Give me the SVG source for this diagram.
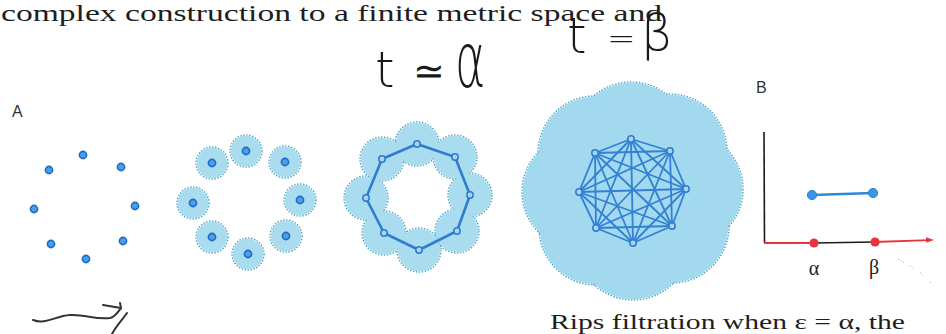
<svg xmlns="http://www.w3.org/2000/svg" width="946" height="334" viewBox="0 0 946 334">
<style>
.print{font-family:"Liberation Serif","Times New Roman",serif;fill:#1e1e1e}
.hand{font-family:"DejaVu Sans","Liberation Sans",sans-serif;font-weight:200;fill:#1a1a1a}
.lab{font-family:"Liberation Sans",Arial,sans-serif;fill:#333;font-size:16px}
.dot{fill:#4d9de8;stroke:#1d6cc7;stroke-width:1.6}
.ring{fill:#a9d4f2;stroke:#2b7bd0;stroke-width:1.5}
.diskline{fill:none;stroke:#4aa6c6;stroke-width:1.4;stroke-dasharray:1.5 1.5}
.diskfill{fill:#aadcef;stroke:none}
.e3{stroke:#2e7dd2;stroke-width:2.6;fill:none;stroke-linejoin:round}
.e4{stroke:#3381d4;stroke-width:1.8}
</style>
<rect width="946" height="334" fill="#ffffff"/>

<text class="print" x="1" y="21" font-size="23" textLength="661" lengthAdjust="spacingAndGlyphs">complex construction to a finite metric space and</text>
<text class="print" x="550" y="329" font-size="21" textLength="355" lengthAdjust="spacingAndGlyphs">Rips filtration when ε = α, the</text>

<text class="hand" x="375" y="87" font-size="50">t</text>
<text class="hand" x="413" y="84" font-size="38">≃</text>
<text class="hand" transform="translate(455,87) scale(1,1.65)" font-size="46">α</text>
<text class="hand" x="567" y="53" font-size="50">t</text>
<text class="hand" x="607" y="50" font-size="34">=</text>
<text class="hand" x="641" y="50" font-size="50">β</text>

<path d="M33,320 C45,325 55,316 70,315 C85,314 95,320 110,318 C115,317 118,312 121,308 M103,305 L121,308 L120,303 M127,313 C122,320 116,326 112,334" fill="none" stroke="#333" stroke-width="2" stroke-linecap="round"/>

<text class="lab" x="12" y="117">A</text>
<text class="lab" x="756" y="93">B</text>

<!-- panel 2 disks -->
<g id="disks2">
<g class="diskline">
<circle cx="246" cy="151" r="16"/><circle cx="285" cy="162" r="16"/><circle cx="300" cy="200" r="16"/><circle cx="286" cy="236" r="16"/><circle cx="248" cy="254" r="16"/><circle cx="212" cy="237" r="16"/><circle cx="193" cy="203" r="16"/><circle cx="212" cy="163" r="16"/>
</g>
<g class="diskfill">
<circle cx="246" cy="151" r="15.3"/><circle cx="285" cy="162" r="15.3"/><circle cx="300" cy="200" r="15.3"/><circle cx="286" cy="236" r="15.3"/><circle cx="248" cy="254" r="15.3"/><circle cx="212" cy="237" r="15.3"/><circle cx="193" cy="203" r="15.3"/><circle cx="212" cy="163" r="15.3"/>
</g>
</g>

<!-- panel 3 disks -->
<g id="disks3">
<g class="diskline">
<circle cx="417" cy="144" r="22"/><circle cx="455" cy="157" r="22"/><circle cx="470" cy="195" r="22"/><circle cx="457" cy="231" r="22"/><circle cx="419" cy="250" r="22"/><circle cx="384" cy="233" r="22"/><circle cx="366" cy="198" r="22"/><circle cx="382" cy="159" r="22"/>
</g>
<g class="diskfill">
<circle cx="417" cy="144" r="21.3"/><circle cx="455" cy="157" r="21.3"/><circle cx="470" cy="195" r="21.3"/><circle cx="457" cy="231" r="21.3"/><circle cx="419" cy="250" r="21.3"/><circle cx="384" cy="233" r="21.3"/><circle cx="366" cy="198" r="21.3"/><circle cx="382" cy="159" r="21.3"/>
</g>
</g>

<!-- panel 4 disks -->
<g id="disks4">
<g class="diskline">
<circle cx="631" cy="139" r="57"/><circle cx="670" cy="151" r="57"/><circle cx="686" cy="189" r="57"/><circle cx="672" cy="226" r="57"/><circle cx="633" cy="243" r="57"/><circle cx="596" cy="228" r="57"/><circle cx="579" cy="192" r="57"/><circle cx="595" cy="153" r="57"/>
</g>
<g class="diskfill" style="fill:#a2d9ee">
<circle cx="631" cy="139" r="56.3"/><circle cx="670" cy="151" r="56.3"/><circle cx="686" cy="189" r="56.3"/><circle cx="672" cy="226" r="56.3"/><circle cx="633" cy="243" r="56.3"/><circle cx="596" cy="228" r="56.3"/><circle cx="579" cy="192" r="56.3"/><circle cx="595" cy="153" r="56.3"/>
<circle cx="632" cy="191" r="60"/>
</g>
</g>

<g id="connectors">
<polygon class="e3" points="417,144 455,157 470,195 457,231 419,250 384,233 366,198 382,159"/>
<g class="e4">
<line x1="631" y1="139" x2="670" y2="151"/><line x1="631" y1="139" x2="686" y2="189"/><line x1="631" y1="139" x2="672" y2="226"/><line x1="631" y1="139" x2="633" y2="243"/><line x1="631" y1="139" x2="596" y2="228"/><line x1="631" y1="139" x2="579" y2="192"/><line x1="631" y1="139" x2="595" y2="153"/>
<line x1="670" y1="151" x2="686" y2="189"/><line x1="670" y1="151" x2="672" y2="226"/><line x1="670" y1="151" x2="633" y2="243"/><line x1="670" y1="151" x2="596" y2="228"/><line x1="670" y1="151" x2="579" y2="192"/><line x1="670" y1="151" x2="595" y2="153"/>
<line x1="686" y1="189" x2="672" y2="226"/><line x1="686" y1="189" x2="633" y2="243"/><line x1="686" y1="189" x2="596" y2="228"/><line x1="686" y1="189" x2="579" y2="192"/><line x1="686" y1="189" x2="595" y2="153"/>
<line x1="672" y1="226" x2="633" y2="243"/><line x1="672" y1="226" x2="596" y2="228"/><line x1="672" y1="226" x2="579" y2="192"/><line x1="672" y1="226" x2="595" y2="153"/>
<line x1="633" y1="243" x2="596" y2="228"/><line x1="633" y1="243" x2="579" y2="192"/><line x1="633" y1="243" x2="595" y2="153"/>
<line x1="596" y1="228" x2="579" y2="192"/><line x1="596" y1="228" x2="595" y2="153"/>
<line x1="579" y1="192" x2="595" y2="153"/>
</g>
</g>

<g id="panelA">
<circle class="dot" cx="83" cy="155" r="3.6"/><circle class="dot" cx="121" cy="167" r="3.6"/><circle class="dot" cx="135" cy="206" r="3.6"/><circle class="dot" cx="123" cy="241" r="3.6"/><circle class="dot" cx="86" cy="259" r="3.6"/><circle class="dot" cx="51" cy="244" r="3.6"/><circle class="dot" cx="34" cy="209" r="3.6"/><circle class="dot" cx="49" cy="170" r="3.6"/>
</g>
<g id="panel2">
<circle class="dot" cx="246" cy="151" r="3.6"/><circle class="dot" cx="285" cy="162" r="3.6"/><circle class="dot" cx="300" cy="200" r="3.6"/><circle class="dot" cx="286" cy="236" r="3.6"/><circle class="dot" cx="248" cy="254" r="3.6"/><circle class="dot" cx="212" cy="237" r="3.6"/><circle class="dot" cx="193" cy="203" r="3.6"/><circle class="dot" cx="212" cy="163" r="3.6"/>
</g>
<g id="panel3">
<circle class="ring" cx="417" cy="144" r="3.2"/><circle class="ring" cx="455" cy="157" r="3.2"/><circle class="ring" cx="470" cy="195" r="3.2"/><circle class="ring" cx="457" cy="231" r="3.2"/><circle class="ring" cx="419" cy="250" r="3.2"/><circle class="ring" cx="384" cy="233" r="3.2"/><circle class="ring" cx="366" cy="198" r="3.2"/><circle class="ring" cx="382" cy="159" r="3.2"/>
</g>
<g id="panel4">
<circle class="ring" cx="631" cy="139" r="3.2"/><circle class="ring" cx="670" cy="151" r="3.2"/><circle class="ring" cx="686" cy="189" r="3.2"/><circle class="ring" cx="672" cy="226" r="3.2"/><circle class="ring" cx="633" cy="243" r="3.2"/><circle class="ring" cx="596" cy="228" r="3.2"/><circle class="ring" cx="579" cy="192" r="3.2"/><circle class="ring" cx="595" cy="153" r="3.2"/>
</g>

<g id="panelB">
<line x1="764" y1="132" x2="764.5" y2="243" stroke="#1a1a1a" stroke-width="1.6"/>
<line x1="764" y1="243" x2="814" y2="243" stroke="#e8343e" stroke-width="1.8"/>
<line x1="814" y1="243" x2="874" y2="242" stroke="#1a1a1a" stroke-width="1.6"/>
<line x1="874" y1="242" x2="929" y2="240.2" stroke="#e8343e" stroke-width="1.8"/>
<path d="M934,240 L926,237.3 L926.2,242.8 Z" fill="#e8343e"/>
<circle cx="814" cy="243" r="4.6" fill="#e8343e"/>
<circle cx="875" cy="242" r="4.6" fill="#e8343e"/>
<line x1="812" y1="195" x2="873" y2="193" stroke="#2a8ad8" stroke-width="2.4"/>
<circle cx="812" cy="195" r="4.6" fill="#3a96e2" stroke="#2a82d0" stroke-width="1"/>
<circle cx="873" cy="193" r="4.6" fill="#3a96e2" stroke="#2a82d0" stroke-width="1"/>
<text class="print" x="814" y="275" font-size="20" text-anchor="middle">α</text>
<text class="print" x="874" y="274" font-size="20" text-anchor="middle">β</text>
<path d="M898,259 L905,263 M910,266 L913,268 M920,272 L922,275 M930,282 L931,284" stroke="#bbb" stroke-width="1.2" stroke-dasharray="1 2" fill="none"/>
</g>
</svg>
